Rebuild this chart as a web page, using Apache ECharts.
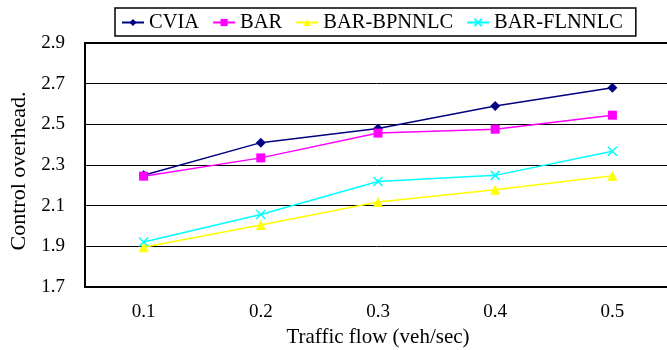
<!DOCTYPE html>
<html>
<head>
<meta charset="utf-8">
<script src="https://cdn.jsdelivr.net/npm/echarts@6/dist/echarts.min.js"></script>
<style>html,body{margin:0;padding:0;background:#fff}#c{width:667px;height:350px}</style>
</head>
<body>
<div id="c"></div>
<script>
const categories = ['0.1', '0.2', '0.3', '0.4', '0.5'];
const yTicks = [1.7, 1.9, 2.1, 2.3, 2.5, 2.7, 2.9];
const cvia = [2.25, 2.41, 2.48, 2.59, 2.68];
const bar = [2.245, 2.335, 2.457, 2.476, 2.545];
const bpnnlc = [1.895, 2.005, 2.118, 2.178, 2.247];
const flnnlc = [1.921, 2.057, 2.219, 2.249, 2.368];

const FONT = '"Liberation Serif", "Times New Roman", serif';
const xPath = 'path://M0,0L10,10M10,0L0,10';

function mkSeries(name, data, color, symbol, size, extra) {
  return Object.assign({
    name: name, type: 'line', data: data, symbol: symbol, symbolSize: size,
    lineStyle: { color: color, width: 1.5 },
    itemStyle: { color: color },
    animation: false
  }, extra || {});
}

const chart = echarts.init(document.getElementById('c'));
chart.setOption({
  animation: false,
  textStyle: { fontFamily: FONT },
  grid: { left: 85, top: 43, width: 586, height: 244, show: true, borderColor: '#000', borderWidth: 2,
    containLabel: false, outerBoundsMode: 'none' },
  legend: {
    left: 115, top: 8,
    borderColor: '#000', borderWidth: 1.5,
    padding: [4, 13, 3, 6],
    itemWidth: 22, itemHeight: 9, itemGap: 13,
    textStyle: { fontFamily: FONT, fontSize: 20.5, color: '#000' },
    data: ['CVIA', 'BAR', 'BAR-BPNNLC', 'BAR-FLNNLC']
  },
  xAxis: {
    type: 'category', data: categories, boundaryGap: true,
    name: 'Traffic flow (veh/sec)', nameLocation: 'middle', nameGap: 38,
    nameTextStyle: { fontFamily: FONT, fontSize: 21, color: '#000' },
    axisLine: { lineStyle: { color: '#000', width: 2 } },
    axisTick: { inside: true, length: 6, lineStyle: { color: '#000' } },
    axisLabel: { fontFamily: FONT, fontSize: 19, color: '#000', margin: 16 },
    splitLine: { show: false }
  },
  yAxis: {
    type: 'value', min: 1.7, max: 2.9,
    name: 'Control overhead.', nameLocation: 'middle', nameGap: 47, nameRotate: 90,
    nameTextStyle: { fontFamily: FONT, fontSize: 22, color: '#000', padding: [0, 12, 0, 0] },
    axisLine: { show: true, lineStyle: { color: '#000', width: 2 } },
    axisTick: { show: false, customValues: yTicks },
    axisLabel: { fontFamily: FONT, fontSize: 19, color: '#000', margin: 20, customValues: yTicks,
      formatter: v => v.toFixed(1) },
    splitLine: { show: true, lineStyle: { color: '#000', width: 1 } }
  },
  series: [
    mkSeries('CVIA', cvia, '#000080', 'diamond', 10),
    mkSeries('BAR', bar, '#FF00FF', 'rect', 9),
    mkSeries('BAR-BPNNLC', bpnnlc, '#FFFF00', 'triangle', 10),
    mkSeries('BAR-FLNNLC', flnnlc, '#00FFFF', xPath, 9, {
      itemStyle: { color: 'none', borderColor: '#00FFFF', borderWidth: 1.5 }
    })
  ]
});
</script>
</body>
</html>
